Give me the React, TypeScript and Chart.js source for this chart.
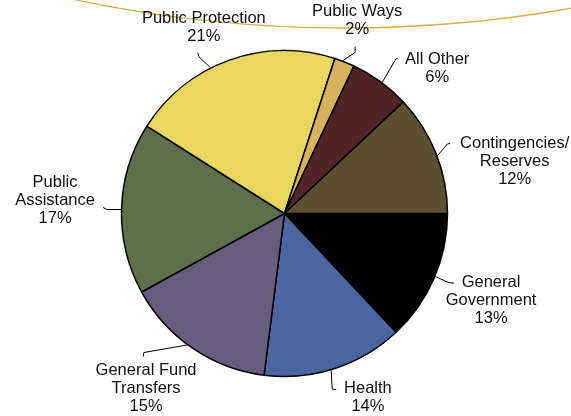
import React, { useEffect, useRef } from "react";
import { Chart, registerables } from "chart.js";

Chart.register(...registerables);

// ---- data ----
const categories = [
  "General Government",
  "Health",
  "General Fund Transfers",
  "Public Assistance",
  "Public Protection",
  "Public Ways",
  "All Other",
  "Contingencies/Reserves",
];
const values = [13, 14, 15, 17, 21, 2, 6, 12];
const labelLines = [
  ["General", "Government"],
  ["Health"],
  ["General Fund", "Transfers"],
  ["Public", "Assistance"],
  ["Public Protection"],
  ["Public Ways"],
  ["All Other"],
  ["Contingencies/", "Reserves"],
];
const colors = [
  "#000000",
  "#4A65A0",
  "#665C7E",
  "#5E704A",
  "#E8D660",
  "#D6B25C",
  "#532426",
  "#5C5030",
];

// ---- label layout (angle tweak in degrees, offsets from the edge point) ----
type Lay = { adj: number; elbow: [number, number]; end: [number, number]; text: [number, number] };
const labelLayout: Lay[] = [
  { adj: -0.7, elbow: [13.4, 6], end: [18.7, 6.6], text: [55.7, 6] },
  { adj: 1.4, elbow: [1, 19], end: [5, 19.3], text: [36.7, 18.3] },
  { adj: 2.3, elbow: [-43.4, 7.6], end: [-44, 11.6], text: [-41.2, 26] },
  { adj: -0.4, elbow: [-14, 0], end: [-18, -2], text: [-66, -27.3] },
  { adj: -7.1, elbow: [-11.7, -11], end: [-12.7, -15], text: [-6.7, -49] },
  { adj: -0.7, elbow: [12.3, -8.4], end: [12.3, -14], text: [14.3, -49] },
  { adj: 0.7, elbow: [13.6, -23.3], end: [15.3, -24], text: [55, -22.6] },
  { adj: 0.9, elbow: [10, -11.7], end: [12.7, -12.3], text: [77.2, -12.3] },
];

const FONT = '16.5px "Liberation Sans", Arial, sans-serif';
const LINE_H = 18;

const decorPlugin = {
  id: "decor",
  beforeDraw(chart: any) {
    const ctx = chart.ctx;
    ctx.save();
    ctx.strokeStyle = "#D9AE50";
    ctx.lineWidth = 1.3;
    const R = 1300;
    const cx = 345;
    const cy = 28 - R;
    ctx.beginPath();
    ctx.arc(cx, cy, R, Math.PI / 2 - 0.3, Math.PI / 2 + 0.3);
    ctx.stroke();
    ctx.restore();
  },
  afterDraw(chart: any) {
    const ctx = chart.ctx;
    const meta = chart.getDatasetMeta(0);
    ctx.save();
    ctx.font = FONT;
    ctx.fillStyle = "#111111";
    ctx.textAlign = "center";
    ctx.textBaseline = "middle";
    meta.data.forEach((arc: any, i: number) => {
      const { x, y, startAngle, endAngle, outerRadius } = arc.getProps(
        ["x", "y", "startAngle", "endAngle", "outerRadius"],
        true
      );
      const lay = labelLayout[i];
      const a = (startAngle + endAngle) / 2 + (lay.adj * Math.PI) / 180;
      const r = outerRadius + 0.5;
      const px = x + r * Math.cos(a);
      const py = y + r * Math.sin(a);
      ctx.strokeStyle = "#000";
      ctx.lineWidth = 1;
      ctx.beginPath();
      ctx.moveTo(px, py);
      ctx.lineTo(px + lay.elbow[0], py + lay.elbow[1]);
      ctx.lineTo(px + lay.end[0], py + lay.end[1]);
      ctx.stroke();
      const lines = [...labelLines[i], `${values[i]}%`];
      lines.forEach((ln, k) => {
        ctx.fillText(ln, px + lay.text[0], py + lay.text[1] + k * LINE_H);
      });
    });
    ctx.restore();
  },
};

export default function App() {
  const ref = useRef<HTMLCanvasElement>(null);
  useEffect(() => {
    document.body.style.margin = "0";
    const canvas = ref.current!;
    const chart = new Chart(canvas, {
      type: "pie",
      data: {
        labels: categories,
        datasets: [
          {
            data: values,
            backgroundColor: colors,
            borderColor: "#000000",
            borderWidth: 1.5,
          },
        ],
      },
      options: {
        responsive: false,
        animation: false,
        rotation: 90,
        radius: 163,
        layout: { padding: { left: 0, right: 2, top: 11, bottom: 0 } },
        plugins: {
          legend: { display: false },
          tooltip: { enabled: false },
        },
      },
      plugins: [decorPlugin],
    });
    return () => chart.destroy();
  }, []);
  return (
    <canvas
      ref={ref}
      width={571}
      height={416}
      style={{ display: "block", width: 571, height: 416 }}
    />
  );
}
